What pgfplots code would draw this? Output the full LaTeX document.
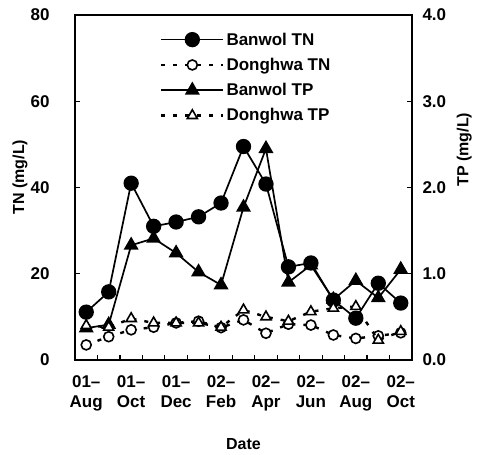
\documentclass[border=0pt]{standalone}
\usepackage{pgfplots}
\pgfplotsset{compat=1.18}
\usepackage{pgfplotstable}
\usepackage{fontspec}
\setmainfont{Liberation Sans}

% monthly samples, Aug 2001 -- Oct 2002
\pgfplotstableread{
i  bTN   dTN  bTP   dTP
0  11.1  3.5  0.37  0.40
1  15.8  5.4  0.41  0.38
2  41.0  7.0  1.33  0.48
3  31.0  7.6  1.41  0.43
4  32.0  8.6  1.24  0.43
5  33.2  9.0  1.02  0.43
6  36.4  7.5  0.87  0.38
7  49.5  9.3  1.77  0.58
8  40.8  6.2  2.45  0.50
9  21.6  8.3  0.90  0.45
10 22.5  8.1  1.10  0.56
11 13.9  5.8  0.70  0.60
12  9.7  5.0  0.92  0.62
13 17.8  5.6  0.72  0.23
14 13.2  6.3  1.05  0.33
}\datatable

\pgfplotsset{
  base/.style={
    scale only axis, width=337pt, height=345pt,
    at={(0pt,0pt)}, anchor=south west,
    xmin=-0.5, xmax=14.5,
    axis line style={line width=1.6pt},
    tick style={line width=1.2pt, black},
    major tick length=5pt, minor tick length=5pt,
    tick label style={font=\fontsize{17}{20}\selectfont\bfseries},
    label style={font=\fontsize{16}{19}\selectfont\bfseries},
    /pgf/number format/assume math mode=true,
  },
  legend image code/.code={
    \draw[mark repeat=2,mark phase=2] plot coordinates {(0pt,0pt) (31pt,0pt) (62pt,0pt)};
  },
  bTN/.style={black, line width=1.7pt, mark=*, mark size=6.8pt, mark options={solid, fill=black}},
  dTN/.style={black, line width=2.4pt, dash pattern=on 4pt off 8pt, mark=*, mark size=5pt, mark options={solid, fill=white, line width=1.6pt}},
  bTP/.style={black, line width=1.7pt, mark=triangle*, mark size=7pt, mark options={solid, fill=black}},
  dTP/.style={black, line width=2.4pt, dash pattern=on 4pt off 8pt, mark=triangle*, mark size=5.8pt, mark options={solid, fill=white, line width=1.6pt}},
}

\begin{document}
\begin{tikzpicture}
\useasboundingbox (-75pt,-95pt) rectangle (402pt,360pt);

\begin{axis}[
  base,
  ymin=0, ymax=80, ytick={0,20,40,60,80},
  ytick pos=left,
  yticklabel style={xshift=-22pt},
  xtick={0,2,...,14},
  xticklabels={{01--\\Aug},{01--\\Oct},{01--\\Dec},{02--\\Feb},{02--\\Apr},{02--\\Jun},{02--\\Aug},{02--\\Oct}},
  xticklabel style={align=center, yshift=-12pt},
  major x tick style={draw=none},
  minor xtick={0.5,1.5,...,13.5},
  xtick pos=bottom,
  ylabel={TN (mg/L)},
  ylabel style={at={(axis description cs:-0.163,0.53)}, anchor=center},
  xlabel={Date},
  xlabel style={at={(axis description cs:0.5,-0.243)}, anchor=center},
]
\addplot[bTN] table[x=i, y=bTN] {\datatable};
\addplot[dTN] table[x=i, y=dTN] {\datatable};
\end{axis}

\begin{axis}[
  base,
  ymin=0, ymax=4, ytick={0,1,2,3,4},
  axis y line*=right, hide x axis,
  yticklabel style={xshift=7pt, /pgf/number format/.cd, fixed, fixed zerofill, precision=1},
  ylabel={TP (mg/L)},
  ylabel style={at={(axis description cs:1.155,0.61)}, anchor=center},
  legend style={at={(0.252,0.955)}, anchor=north west, draw=none, fill=none,
    font=\fontsize{17}{19}\selectfont\bfseries, row sep=7.5pt, inner sep=0pt,
    /tikz/every even column/.append style={column sep=4pt}},
  legend cell align=left,
]
\addlegendimage{bTN}
\addlegendimage{dTN}
\addplot[bTP] table[x=i, y=bTP] {\datatable};
\addplot[dTP] table[x=i, y=dTP] {\datatable};
\legend{Banwol TN, Donghwa TN, Banwol TP, Donghwa TP}
\end{axis}
\end{tikzpicture}
\end{document}
